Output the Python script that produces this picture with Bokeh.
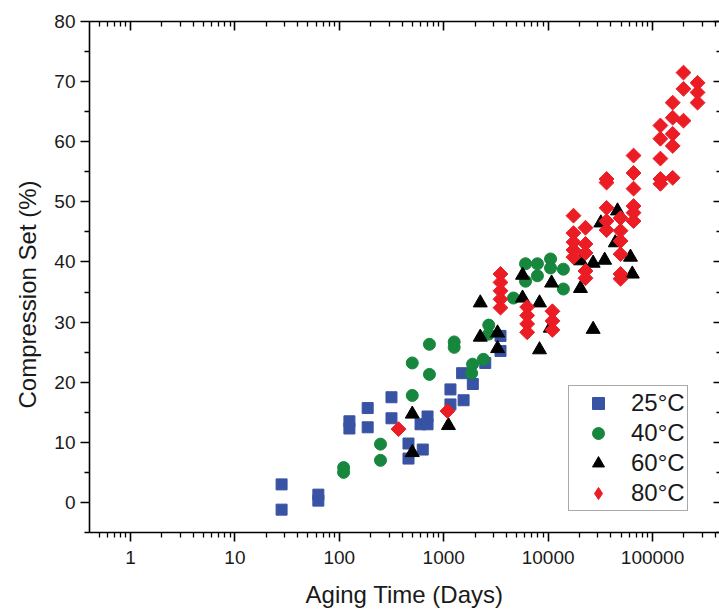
import math
from bokeh.plotting import figure
from bokeh.models import (Range1d, FixedTicker, LogAxis, LinearAxis, PrintfTickFormatter,
                          Legend, LegendItem, Title, CustomJSTickFormatter)
from bokeh.embed import file_html
from bokeh.resources import INLINE

# ---- data (aging time in days, compression set in %) ----
t25 = [28, 28, 63, 63, 125, 125, 187, 187, 316, 316, 460, 460, 630, 600, 700, 700,
       1160, 1160, 1550, 1500, 1900, 2500, 3500, 3500]
cs25 = [3.0, -1.2, 1.3, 0.3, 13.5, 12.3, 15.7, 12.5, 17.5, 14.0, 9.8, 7.3, 8.8, 13.0, 14.3, 13.0,
        18.8, 16.3, 17.0, 21.5, 19.7, 23.2, 27.7, 25.2]

t40 = [110, 110, 248, 248, 500, 500, 730, 730, 1260, 1260, 1890, 1850, 2400, 2700, 2700,
       4660, 6080, 7900, 6080, 7900, 10550, 10550, 14000, 14000]
cs40 = [5.8, 5.0, 9.7, 7.0, 23.2, 17.8, 26.3, 21.3, 26.7, 25.8, 23.0, 21.5, 23.8, 29.5, 28.0,
        34.0, 39.7, 39.7, 36.8, 37.7, 40.5, 39.0, 38.8, 35.5]

t60 = [500, 500, 1110, 2240, 2240, 3280, 3280, 5690, 5690, 8270, 8270, 10800, 10500,
       20400, 20400, 27000, 27000, 34800, 46200, 32000, 44000, 61500, 64000]
cs60 = [14.7, 8.3, 12.8, 33.2, 27.5, 28.2, 25.6, 37.8, 34.0, 33.2, 25.4, 36.5, 29.0,
        40.2, 35.6, 39.8, 28.8, 40.3, 48.5, 46.5, 43.2, 40.8, 38.0]

t80 = [369, 1087,
       3500, 3500, 3500, 3500, 3500,
       6300, 6300, 6300, 6300,
       11000, 11000, 11000,
       17500, 17500, 17500, 17500, 17500,
       22800, 22800, 22800, 22800, 22800,
       36300, 36300, 36300, 36300, 36300,
       49400, 49400, 49400, 49400, 49400, 49400,
       65800, 65800, 65800, 65800, 65800, 65800,
       119000, 119000, 119000, 119000, 119000,
       156000, 156000, 156000, 156000, 156000,
       198000, 198000, 198000,
       270000, 270000, 270000]
cs80 = [12.2, 15.2,
        38.0, 36.6, 35.2, 33.8, 32.4,
        32.5, 31.1, 29.7, 28.3,
        31.8, 30.2, 28.7,
        47.7, 44.8, 43.3, 42.0, 40.8,
        45.7, 43.0, 41.5, 38.5, 37.3,
        53.8, 53.2, 49.0, 46.8, 45.3,
        47.3, 45.2, 43.5, 41.3, 38.0, 37.2,
        57.7, 54.8, 52.2, 49.3, 48.2, 46.8,
        62.7, 60.5, 57.2, 53.8, 53.0,
        66.5, 64.0, 61.3, 59.3, 54.0,
        71.5, 68.8, 63.5,
        69.8, 68.2, 66.5]

series_labels = ["25°C", "40°C", "60°C", "80°C"]
x_major = [1, 10, 100, 1000, 10000, 100000]
x_minor = [m * 10 ** e for e in range(-1, 6) for m in range(2, 10)]
y_major = [0, 10, 20, 30, 40, 50, 60, 70, 80]
y_minor = [-5, 5, 15, 25, 35, 45, 55, 65, 75]

FONT = "Liberation Sans"

p = figure(width=719, height=612, x_axis_type="log",
           x_range=Range1d(0.405, 438000), y_range=Range1d(-5, 80),
           output_backend="svg", toolbar_location=None,
           min_border_left=89, min_border_right=0, min_border_top=21, min_border_bottom=80)
p.xgrid.visible = False
p.ygrid.visible = False
p.outline_line_color = None
p.background_fill_color = "white"

def style_axis(ax, inward=False):
    ax.axis_line_color = "black"
    ax.axis_line_width = 1.6
    ax.major_tick_line_color = "black"
    ax.major_tick_line_width = 1.6
    ax.minor_tick_line_color = "black"
    ax.minor_tick_line_width = 1.3
    if inward:
        ax.major_tick_in = 9
        ax.major_tick_out = 0
        ax.minor_tick_in = 5
        ax.minor_tick_out = 0
        ax.major_label_text_font_size = "0px"
        ax.major_label_standoff = 0
        ax.formatter = CustomJSTickFormatter(code="return ''")
    else:
        ax.major_tick_in = 0
        ax.major_tick_out = 9
        ax.minor_tick_in = 0
        ax.minor_tick_out = 5
        ax.major_label_text_font = FONT
        ax.major_label_text_font_size = "19px"
        ax.major_label_text_color = "#1a1a1a"

xa = p.xaxis[0]
xa.ticker = FixedTicker(ticks=x_major, minor_ticks=x_minor)
xa.formatter = PrintfTickFormatter(format="%d")
style_axis(xa)
xa.major_label_standoff = 9
xa.axis_label = "Aging Time (Days)"
xa.axis_label_text_font = FONT
xa.axis_label_text_font_size = "24px"
xa.axis_label_text_font_style = "normal"
xa.axis_label_text_color = "#1a1a1a"
xa.axis_label_standoff = 14

ya = p.yaxis[0]
ya.ticker = FixedTicker(ticks=y_major, minor_ticks=y_minor)
style_axis(ya)
ya.major_label_standoff = 5

top = LogAxis(ticker=FixedTicker(ticks=x_major, minor_ticks=x_minor))
style_axis(top, inward=True)
p.add_layout(top, "above")

right = LinearAxis(ticker=FixedTicker(ticks=y_major, minor_ticks=y_minor))
style_axis(right, inward=True)
right.axis_line_color = None
right.major_tick_in = 6
right.minor_tick_in = 3
p.add_layout(right, "right")

ytitle = Title(text="Compression Set (%)", align="left", offset=124,
               standoff=22, text_font=FONT, text_font_size="24px",
               text_font_style="normal", text_color="#1a1a1a")
p.add_layout(ytitle, "left")

r25 = p.scatter(t25, cs25, marker="square", size=11, fill_color="#3953A4", line_color="#3953A4")
r40 = p.scatter(t40, cs40, marker="circle", size=12, fill_color="#16873D", line_color="#16873D")
r60 = p.scatter(t60, cs60, marker="triangle", size=14, fill_color="black", line_color="black")
r80 = p.scatter(t80, cs80, marker="square", angle=math.pi / 4, size=10.5,
                fill_color="#EC1C24", line_color="#EC1C24")
# legend key for the 80°C series (a point that lies outside the visible ranges)
r80_key = p.scatter(x=[0.01], y=[-100], marker="diamond", size=15,
                    fill_color="#EC1C24", line_color="#EC1C24")

legend = Legend(items=[LegendItem(label=series_labels[i], renderers=[r])
                       for i, r in enumerate([r25, r40, r60, r80_key])],
                location=(479, 21), margin=0, padding=2, spacing=0,
                glyph_width=54, glyph_height=30, label_height=30, label_standoff=6,
                label_text_font=FONT, label_text_font_size="24px", label_text_color="#1a1a1a",
                border_line_color="#555555", border_line_width=1,
                background_fill_color="white", background_fill_alpha=1)
p.add_layout(legend, "center")

open("out.html", "w").write(file_html(p, INLINE))
